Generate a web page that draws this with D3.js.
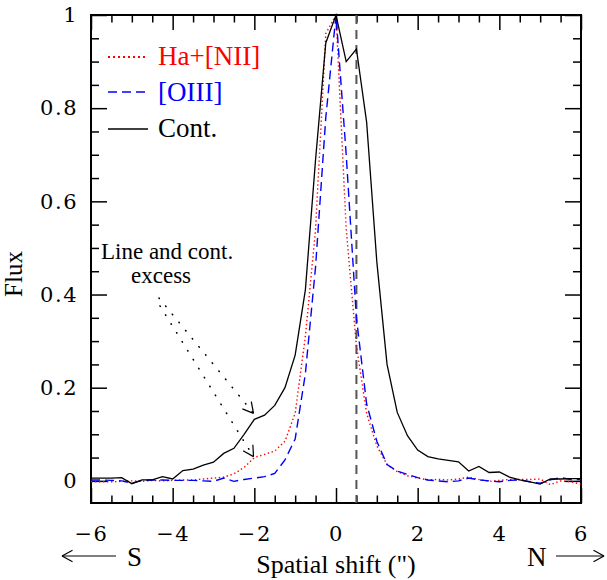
<!DOCTYPE html>
<html>
<head>
<meta charset="utf-8">
<script src="https://cdn.jsdelivr.net/npm/d3@7"></script>
<style>
  body { margin: 0; background: #fff; }
  text { font-family: "Liberation Serif", "Times New Roman", serif; }
  .tick text { font-family: "DejaVu Serif", serif; font-size: 21px; letter-spacing: 1.5px; fill: #000; }
</style>
</head>
<body>
<script type="text/javascript">
// Spatial profiles, sampled every 0.25 arcsec
var shift = [-6, -5.75, -5.5, -5.25, -5, -4.75, -4.5, -4.25, -4, -3.75, -3.5, -3.25,
             -3, -2.75, -2.5, -2.25, -2, -1.75, -1.5, -1.25, -1, -0.75, -0.5, -0.25,
             0, 0.25, 0.5, 0.75, 1, 1.25, 1.5, 1.75, 2, 2.25, 2.5, 2.75,
             3, 3.25, 3.5, 3.75, 4, 4.25, 4.5, 4.75, 5, 5.25, 5.5, 5.75, 6];

var cont = [0.006, 0.006, 0.006, 0.007, -0.006, 0.002, 0.002, 0.009, 0.004, 0.022, 0.025, 0.034,
            0.040, 0.059, 0.070, 0.100, 0.132, 0.141, 0.162, 0.200, 0.270, 0.410, 0.690, 0.940,
            1.000, 0.900, 0.927, 0.770, 0.470, 0.250, 0.147, 0.097, 0.066, 0.052, 0.047, 0.044,
            0.041, 0.021, 0.031, 0.018, 0.019, 0.008, 0.002, -0.002, -0.007, 0.004, 0.004, 0.005, 0.005];

var halpha = [-0.002, -0.002, -0.002, -0.001, 0.000, -0.001, 0.001, 0.000, 0.001, 0.002, 0.002, 0.004,
              0.006, 0.008, 0.015, 0.029, 0.050, 0.057, 0.064, 0.085, 0.145, 0.310, 0.540, 0.960,
              1.000, 0.540, 0.290, 0.145, 0.075, 0.035, 0.020, 0.011, 0.006, 0.002, 0.003, 0.002,
              0.004, 0.008, 0.003, -0.001, 0.001, 0.003, 0.003, 0.003, 0.004, -0.008, 0.000, -0.002, -0.007];

var oiii = [0.002, 0.002, 0.001, 0.000, -0.005, 0.001, 0.002, 0.002, 0.001, 0.001, 0.001, 0.000,
            -0.001, 0.006, -0.001, 0.003, 0.006, 0.009, 0.016, 0.045, 0.090, 0.230, 0.460, 0.780,
            1.000, 0.700, 0.350, 0.165, 0.085, 0.035, 0.021, 0.014, 0.007, 0.002, 0.000, -0.002,
            0.000, 0.006, 0.002, 0.000, -0.002, 0.001, 0.002, -0.002, -0.005, 0.002, 0.007, 0.003, 0.003];

var legendLabels = ["Ha+[NII]", "[OIII]", "Cont."];
var xMajor = [-6, -4, -2, 0, 2, 4, 6];
var yMajor = [0, 0.2, 0.4, 0.6, 0.8, 1];
var markerShift = 0.5;

var width = 607, height = 580;

var svg = d3.select("body").append("svg")
    .attr("width", width)
    .attr("height", height);

var x = d3.scaleLinear().domain([-6, 6]).range([91, 581]);
var y = d3.scaleLinear().domain([-0.0475, 1]).range([503, 15]);

var xMinor = d3.range(-6, 6.01, 0.5).filter(d => xMajor.indexOf(d) < 0);
var yMinor = d3.range(0, 1.001, 0.05).map(d => +d.toFixed(2)).filter(d => yMajor.indexOf(d) < 0);
var fmt = d3.format("~g");

// axes on all four sides, ticks pointing inward
function addAxis(axis, tx, ty) {
    var g = svg.append("g").attr("transform", "translate(" + tx + "," + ty + ")").call(axis);
    g.select(".domain").remove();
    g.selectAll(".tick line").attr("stroke", "#000").attr("stroke-width", 1.5);
    return g;
}
addAxis(d3.axisBottom(x).tickValues(xMajor).tickSize(-15).tickPadding(23).tickFormat(fmt), 0, 503);
addAxis(d3.axisBottom(x).tickValues(xMinor).tickSize(-7.5).tickFormat(""), 0, 503);
addAxis(d3.axisTop(x).tickValues(xMajor).tickSize(-15).tickFormat(""), 0, 15);
addAxis(d3.axisTop(x).tickValues(xMinor).tickSize(-7.5).tickFormat(""), 0, 15);
addAxis(d3.axisLeft(y).tickValues(yMajor).tickSize(-16).tickPadding(13).tickFormat(fmt), 91, 0);
addAxis(d3.axisLeft(y).tickValues(yMinor).tickSize(-8).tickFormat(""), 91, 0);
addAxis(d3.axisRight(y).tickValues(yMajor).tickSize(-16).tickFormat(""), 581, 0);
addAxis(d3.axisRight(y).tickValues(yMinor).tickSize(-8).tickFormat(""), 581, 0);

svg.append("rect")
    .attr("x", x(-6)).attr("y", y(1))
    .attr("width", x(6) - x(-6)).attr("height", y(-0.0475) - y(1))
    .attr("fill", "none").attr("stroke", "#000").attr("stroke-width", 2);

// dashed marker
svg.append("line")
    .attr("x1", x(markerShift)).attr("x2", x(markerShift))
    .attr("y1", y(1)).attr("y2", y(-0.0475))
    .attr("stroke", "#555").attr("stroke-width", 2)
    .attr("stroke-dasharray", "9,6");

var line = d3.line().x((d, i) => x(shift[i])).y(d => y(d));

var styles = [
    { data: halpha, color: "#ff0000", dash: "1.4,2.6", w: 1.4 },
    { data: oiii, color: "#0000ff", dash: "9,5", w: 1.4 },
    { data: cont, color: "#000000", dash: null, w: 1.3 }
];

styles.forEach(function(s) {
    svg.append("path")
        .attr("d", line(s.data))
        .attr("fill", "none")
        .attr("stroke", s.color)
        .attr("stroke-width", s.w)
        .attr("stroke-dasharray", s.dash);
});

// legend
var legendY = [57, 92, 129];
var legendTextY = [65, 101, 137];
styles.forEach(function(s, i) {
    svg.append("line")
        .attr("x1", 108).attr("x2", 148)
        .attr("y1", legendY[i]).attr("y2", legendY[i])
        .attr("stroke", s.color).attr("stroke-width", i == 0 ? 2 : 1.4)
        .attr("stroke-dasharray", i == 0 ? "2,3" : s.dash);
    svg.append("text")
        .attr("x", 158).attr("y", legendTextY[i])
        .attr("fill", s.color)
        .style("font-size", "27px")
        .text(legendLabels[i]);
});

// annotation
svg.append("text").attr("x", 101).attr("y", 259).style("font-size", "23px").text("Line and cont.");
svg.append("text").attr("x", 131).attr("y", 283).style("font-size", "23px").text("excess");

function arrow(x1, y1, x2, y2, dash) {
    svg.append("line")
        .attr("x1", x1).attr("y1", y1).attr("x2", x2).attr("y2", y2)
        .attr("stroke", "#000").attr("stroke-width", dash ? 1.6 : 1.2)
        .attr("stroke-dasharray", dash)
        .attr("stroke-linecap", dash ? "round" : "butt");
    var a = Math.atan2(y2 - y1, x2 - x1), len = 12;
    [-0.5, 0.5].forEach(function(da) {
        svg.append("line")
            .attr("x1", x2).attr("y1", y2)
            .attr("x2", x2 - len * Math.cos(a + da)).attr("y2", y2 - len * Math.sin(a + da))
            .attr("stroke", "#000").attr("stroke-width", 1.2);
    });
}
arrow(159, 298, x(-2.02), y(0.145), "0.5,10");
arrow(160, 306, x(-2.02), y(0.052), "0.5,10");

// axis titles
svg.append("text")
    .attr("x", x(0)).attr("y", 573)
    .attr("text-anchor", "middle")
    .style("font-size", "26px")
    .text("Spatial shift (\")");

svg.append("text")
    .attr("transform", "translate(22,274) rotate(-90)")
    .attr("text-anchor", "middle")
    .style("font-size", "25px")
    .text("Flux");

// direction labels
svg.append("text").attr("x", 127).attr("y", 566).style("font-size", "27px").text("S");
svg.append("text").attr("x", 527).attr("y", 566).style("font-size", "27px").text("N");
arrow(116, 556, 62, 556, null);
arrow(556, 556, 604, 556, null);
</script>
</body>
</html>
